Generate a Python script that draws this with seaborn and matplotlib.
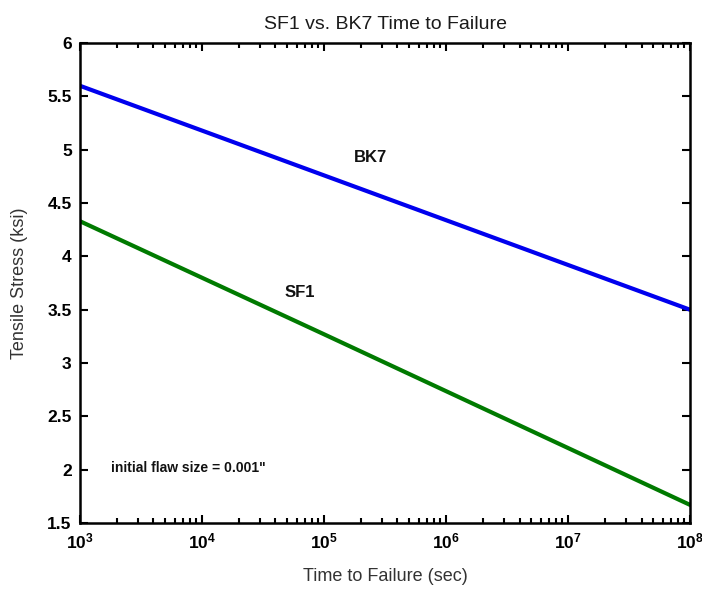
import numpy as np
import pandas as pd
import matplotlib
matplotlib.use("Agg")
import matplotlib.pyplot as plt
import matplotlib.ticker as mticker
import seaborn as sns

# Data
time_sec = [1e3, 1e5, 1e8]
bk7_stress = [5.60, 4.76, 3.50]
sf1_stress = [4.33, 3.27, 1.67]

title = "SF1 vs. BK7 Time to Failure"
xlabel = "Time to Failure (sec)"
ylabel = "Tensile Stress (ksi)"
note = 'initial flaw size = 0.001"'

df = pd.DataFrame({
    "time": time_sec * 2,
    "stress": bk7_stress + sf1_stress,
    "glass": ["BK7"] * len(time_sec) + ["SF1"] * len(time_sec),
})

sns.set_style("white")
plt.rcParams["font.family"] = ["Liberation Sans", "DejaVu Sans"]
plt.rcParams["mathtext.fontset"] = "custom"
plt.rcParams["mathtext.rm"] = "Liberation Sans"
plt.rcParams["mathtext.bf"] = "Liberation Sans:bold"
plt.rcParams["text.color"] = "#1a1a1a"
plt.rcParams["axes.labelcolor"] = "#333333"

fig = plt.figure(figsize=(7.02, 5.91), dpi=100)
ax = fig.add_axes([0.114, 0.115, 0.869, 0.812])

sns.lineplot(data=df, x="time", y="stress", hue="glass",
             palette={"BK7": "#0000ee", "SF1": "#007a00"},
             linewidth=3, legend=False, ax=ax)

ax.set_xscale("log")
ax.set_xlim(1e3, 1e8)
ax.set_ylim(1.5, 6)
ax.set_yticks(np.arange(1.5, 6.01, 0.5))
ax.yaxis.set_major_formatter(mticker.FuncFormatter(lambda v, p: f"{v:g}"))
ax.xaxis.set_major_locator(mticker.LogLocator(base=10, numticks=10))
ax.xaxis.set_minor_locator(mticker.LogLocator(base=10, subs=np.arange(2, 10), numticks=20))
ax.xaxis.set_major_formatter(mticker.FuncFormatter(
    lambda v, p: r"$\mathbf{10^{%d}}$" % round(np.log10(v))))
ax.xaxis.set_minor_formatter(mticker.NullFormatter())

ax.tick_params(axis="both", which="both", direction="in", top=True, right=True,
               bottom=True, left=True, width=1.5, colors="black")
ax.tick_params(axis="both", which="major", length=6, labelsize=12.5, pad=6)
ax.tick_params(axis="both", which="minor", length=3.5)
for lab in ax.get_yticklabels():
    lab.set_fontweight("bold")
for s in ax.spines.values():
    s.set_linewidth(1.8)
    s.set_color("black")
    s.set_visible(True)

ax.set_title(title, fontsize=14, pad=10, color="#1a1a1a")
ax.set_xlabel(xlabel, fontsize=13, labelpad=12)
ax.set_ylabel(ylabel, fontsize=13, labelpad=14)

ax.text(2.4e5, 4.93, "BK7", fontsize=12, fontweight="bold", ha="center", va="center", color="#111111")
ax.text(6.3e4, 3.66, "SF1", fontsize=12, fontweight="bold", ha="center", va="center", color="#111111")
ax.text(1.8e3, 2.02, note, fontsize=10, fontweight="bold", ha="left", va="center", color="#111111")

fig.savefig("out.png", dpi=100)
